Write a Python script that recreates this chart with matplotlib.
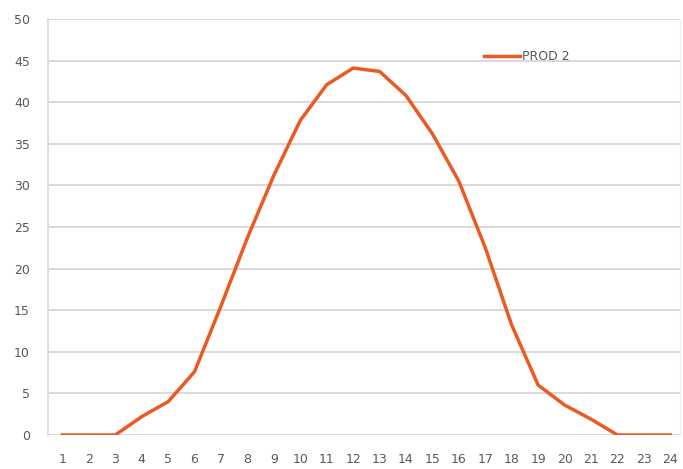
import matplotlib
matplotlib.use('Agg')
import matplotlib.pyplot as plt

# Hourly production, series "PROD 2"
hours = list(range(1, 25))
prod2 = [0, 0, 0, 2.2, 4, 7.6, 15.5, 23.7, 31.2, 37.8, 42.1, 44.1,
         43.7, 40.8, 36.2, 30.5, 22.5, 13.2, 6.0, 3.6, 1.9, 0, 0, 0]
y_ticks = list(range(0, 55, 5))
series_name = 'PROD 2'

fig = plt.figure(figsize=(6.83, 4.69), dpi=100)
ax = fig.add_axes([0.070, 0.0725, 0.925, 0.887])

# Horizontal grid lines like the Excel chart
ax.set_axisbelow(True)
ax.yaxis.grid(True, color='#d9d9d9', linewidth=1.4)

ax.plot(hours, prod2, color='#eb5a24', linewidth=2.5, label=series_name,
        solid_joinstyle='round')

ax.set_xlim(0.45, 24.35)
ax.set_ylim(0, 50)
ax.set_xticks(hours)
ax.set_yticks(y_ticks)

for side in ['top', 'bottom']:
    ax.spines[side].set_visible(False)
ax.spines['left'].set_color('#d9d9d9')
ax.spines['right'].set_color('#eeeeee')
ax.spines['left'].set_linewidth(1.2)

ax.tick_params(axis='both', length=0, labelsize=9, labelcolor='#595959')
ax.tick_params(axis='y', pad=13)
ax.tick_params(axis='x', pad=13)

ax.legend(loc='center left', bbox_to_anchor=(0.69, 0.91), frameon=False,
          fontsize=9, labelcolor='#595959', handlelength=2.9,
          handletextpad=0.15, borderpad=0, borderaxespad=0)

fig.savefig('out.png', dpi=100)
